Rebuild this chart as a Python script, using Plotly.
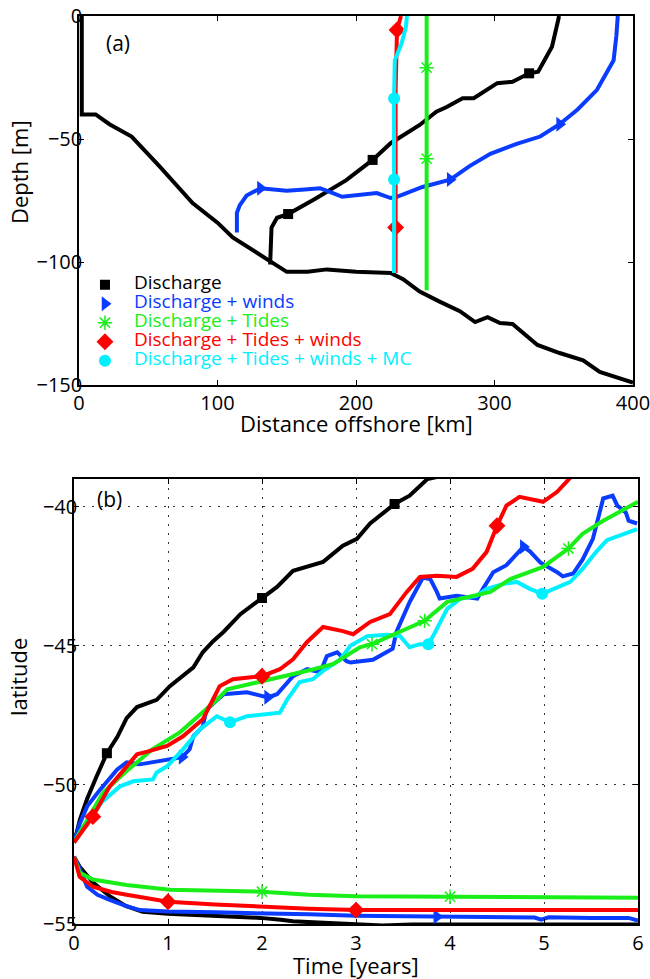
import numpy as np
import plotly.graph_objects as go

# ---------------- panel (a): depth vs distance offshore ----------------
bath_x = [2, 2, 12, 22, 38, 58, 82, 100, 111, 125, 140, 150, 165, 179, 200, 225, 234, 246, 260,
          275, 286, 295, 304, 313, 331, 347, 364, 376, 400]
bath_d = [0, -40, -40, -44, -49, -61, -76, -84, -90, -95, -100, -104, -104, -103, -104, -104.5, -107,
          -112, -116, -120, -124.4, -122.4, -124.8, -125.2, -133.7, -137, -140, -144.7, -149]

dis_x = [138, 139, 143, 151, 170, 181, 193, 212, 225, 246, 258, 265.5, 277, 285, 302, 313, 325,
         331.5, 341.5, 346, 346.6]
dis_d = [-101, -86, -82, -80.5, -74.5, -70.7, -66.7, -58.5, -51.7, -44.3, -38.9, -37, -33.4, -33.4,
         -27.3, -26.7, -23.3, -22.6, -12.5, -1.6, 0]
dis_mark = [3, 7, 16]

win_x = [389, 388, 386, 374, 360, 347, 333, 316, 297, 282, 268, 248, 229.5, 225, 215, 200, 190, 181,
         174, 163, 150, 131, 121, 116, 114, 114]
win_d = [0, -8, -18, -30, -38, -44, -49, -52, -56, -61, -66.5, -69.5, -73.5, -74, -72, -73, -73.5,
         -71.5, -70, -70.5, -71, -70, -73, -77, -80, -88]
win_mark = [5, 10, 21]

tid_x = [251, 251, 251, 251]
tid_d = [0, -21, -58, -111.5]
tid_mark = [1, 2]

tw_x = [232.5, 229.6, 228.6, 228.6, 228.6]
tw_d = [0, -5.7, -30, -86, -104.5]
tw_mark = [1, 3]

mc_x = [236.8, 236, 233, 228, 227.5, 227.5, 227.5, 227.5]
mc_d = [0, -4.5, -11, -18, -33.5, -66.5, -90, -104.5]
mc_mark = [4, 5]

# ---------------- panel (b): latitude vs time ----------------
dis_up_t = [0, 0.01, 0.064, 0.14, 0.24, 0.35, 0.46, 0.52, 0.56, 0.67, 0.88, 1.02, 1.27, 1.37, 1.48,
            1.59, 1.69, 1.77, 2.0, 2.16, 2.33, 2.51, 2.65, 2.86, 3.01, 3.15, 3.41, 3.57, 3.68, 3.76, 3.9]
dis_up_lat = [-52.07, -51.96, -51.24, -50.5, -49.7, -48.86, -48.28, -47.85, -47.6, -47.2, -46.94,
              -46.45, -45.77, -45.23, -44.83, -44.5, -44.14, -43.86, -43.28, -42.88, -42.3, -42.13,
              -41.98, -41.4, -41.15, -40.6, -39.9, -39.6, -39.24, -39.0, -38.9]
dis_lo_t = [0, 0.06, 0.2, 0.38, 0.55, 0.73, 1.0, 1.27, 1.6, 1.98, 2.2, 2.33, 2.6, 2.86, 3.0, 3.28,
            3.6, 4.0, 5.0, 6.0]
dis_lo_lat = [-52.58, -52.94, -53.5, -54.0, -54.35, -54.56, -54.63, -54.67, -54.72, -54.78, -54.85,
              -54.9, -54.95, -55.0, -55.0, -55.05, -55.02, -55.02, -55.02, -55.02]
dis_up_mt = [0.35, 2.0, 3.41]
dis_lo_mt = [3.28]

win_up_t = [0, 0.06, 0.14, 0.28, 0.46, 0.56, 0.7, 0.91, 1.15, 1.23, 1.27, 1.37, 1.41, 1.45, 1.59,
            1.84, 2.06, 2.16, 2.33, 2.48, 2.62, 2.69, 2.8, 2.9, 2.94, 3.18, 3.39, 3.43, 3.57, 3.71,
            3.79, 3.86, 3.89, 4.07, 4.29, 4.35, 4.46, 4.6, 4.78, 4.85, 4.96, 5.14, 5.2, 5.31, 5.41,
            5.52, 5.6, 5.63, 5.73, 5.78, 5.87, 5.9, 5.99]
win_up_lat = [-52.07, -51.4, -50.77, -50.16, -49.44, -49.19, -49.26, -49.15, -49.0, -48.72, -48.25,
              -47.9, -47.28, -47.17, -46.74, -46.67, -46.85, -46.74, -46.09, -45.84, -45.95, -45.37,
              -45.23, -45.55, -45.6, -45.5, -45.1, -44.5, -43.43, -42.55, -42.6, -43.06, -43.3,
              -43.2, -43.3, -42.95, -42.35, -42.1, -41.44, -41.6, -42.0, -42.35, -42.5, -42.4,
              -41.9, -41.15, -40.07, -39.7, -39.6, -39.96, -40.2, -40.5, -40.6]
win_lo_t = [0, 0.06, 0.14, 0.25, 0.38, 0.55, 0.7, 1.0, 1.5, 1.98, 2.5, 3.0, 3.5, 3.86, 4.5, 4.9,
            4.97, 5.05, 5.5, 5.9, 6.0]
win_lo_lat = [-52.58, -53.0, -53.66, -53.95, -54.13, -54.35, -54.5, -54.55, -54.58, -54.6, -54.65,
              -54.7, -54.72, -54.74, -54.76, -54.77, -54.84, -54.76, -54.78, -54.78, -54.88]
win_up_mt = [1.15, 2.06, 4.78]
win_lo_mt = [3.86]

tid_up_t = [0, 0.1, 0.2, 0.31, 0.56, 0.84, 1.13, 1.37, 1.52, 1.63, 1.84, 2.19, 2.54, 2.76, 2.9,
            3.04, 3.17, 3.5, 3.73, 3.97, 4.2, 4.43, 4.64, 4.99, 5.26, 5.41, 5.63, 6.0]
tid_up_lat = [-52.07, -51.5, -50.9, -50.27, -49.5, -48.7, -48.1, -47.4, -46.94, -46.56, -46.4,
              -46.1, -45.85, -45.65, -45.37, -45.05, -44.94, -44.45, -44.1, -43.42, -43.24, -43.06,
              -42.6, -42.16, -41.5, -40.97, -40.5, -39.82]
tid_lo_t = [0, 0.06, 0.2, 0.56, 1.02, 1.5, 2.0, 2.5, 3.0, 4.0, 5.0, 6.0]
tid_lo_lat = [-52.58, -53.15, -53.4, -53.6, -53.77, -53.8, -53.84, -53.95, -54.0, -54.02, -54.05,
              -54.06]
tid_up_mt = [3.17, 3.73, 5.26]
tid_lo_mt = [2.0, 4.0]

tw_up_t = [0, 0.1, 0.2, 0.38, 0.56, 0.67, 0.78, 0.99, 1.16, 1.37, 1.48, 1.55, 1.69, 1.87, 2.0, 2.19,
           2.33, 2.48, 2.65, 2.86, 2.97, 3.15, 3.36, 3.54, 3.68, 3.86, 4.07, 4.24, 4.39, 4.5, 4.6,
           4.74, 4.99, 5.14, 5.28, 5.35]
tw_up_lat = [-52.07, -51.6, -51.14, -50.05, -49.33, -48.9, -48.8, -48.6, -48.25, -47.64, -46.92,
             -46.45, -46.2, -46.13, -46.09, -45.84, -45.48, -44.86, -44.32, -44.47, -44.58, -44.14,
             -43.86, -43.06, -42.52, -42.48, -42.52, -42.23, -41.62, -40.68, -39.96, -39.64, -39.82,
             -39.46, -38.92, -38.7]
tw_lo_t = [0, 0.06, 0.2, 0.4, 0.56, 0.8, 1.0, 1.5, 1.98, 2.5, 3.0, 4.0, 5.0, 6.0]
tw_lo_lat = [-52.58, -53.3, -53.66, -53.85, -53.95, -54.08, -54.2, -54.3, -54.38, -54.45, -54.5,
             -54.5, -54.5, -54.5]
tw_up_mt = [0.2, 2.0, 4.5]
tw_lo_mt = [1.0, 3.0]

mc_up_t = [0, 0.1, 0.3, 0.49, 0.63, 0.84, 0.88, 0.99, 1.16, 1.34, 1.52, 1.66, 1.84, 2.05, 2.19, 2.27,
           2.4, 2.54, 2.65, 2.83, 2.94, 3.12, 3.33, 3.47, 3.57, 3.68, 3.77, 3.82, 3.97, 4.11, 4.28,
           4.39, 4.57, 4.71, 4.85, 4.98, 5.14, 5.28, 5.41, 5.56, 5.67, 5.84, 5.99]
mc_up_lat = [-52.07, -51.5, -50.6, -50.05, -49.87, -49.8, -49.55, -49.33, -48.72, -48.0, -47.53,
             -47.75, -47.53, -47.46, -47.4, -46.92, -46.3, -46.2, -45.9, -45.5, -45.0, -44.65,
             -44.6, -44.65, -45.05, -44.94, -44.94, -44.65, -43.67, -43.3, -43.2, -42.95, -42.77,
             -42.7, -42.95, -43.13, -42.9, -42.7, -42.23, -41.6, -41.2, -41.0, -40.8]
mc_up_mt = [1.66, 3.77, 4.98]

# ---------------- styling ----------------
names = ["Discharge", "Discharge + winds", "Discharge + Tides", "Discharge + Tides + winds",
         "Discharge + Tides + winds + MC"]
colors = ["#000000", "#0a3cff", "#19ee19", "#ff0000", "#00f0ff"]
symbols = ["square", "triangle-right", "asterisk-open", "diamond", "circle"]
msizes = [10, 13, 12, 13, 12]
LW = 4
FONT = "Open Sans"

fig = go.Figure()


def line(x, y, color, xa="x", ya="y", clip=True):
    fig.add_trace(go.Scatter(x=x, y=y, mode="lines", line=dict(color=color, width=LW),
                             xaxis=xa, yaxis=ya, showlegend=False, hoverinfo="skip",
                             cliponaxis=clip))


def marks(x, y, k, xa="x", ya="y", clip=True):
    mk = dict(symbol=symbols[k], size=msizes[k], color=colors[k])
    if symbols[k] == "asterisk-open":
        mk["line"] = dict(color=colors[k], width=1.5)
    else:
        mk["line"] = dict(width=0)
    fig.add_trace(go.Scatter(x=x, y=y, mode="markers", marker=mk, xaxis=xa, yaxis=ya,
                             showlegend=False, hoverinfo="skip", cliponaxis=clip))


def top(xs, ds, idx, k):
    line(xs, ds, colors[k])
    marks([xs[i] for i in idx], [ds[i] for i in idx], k)


def bottom(t, lat, mt, k, clip=True):
    line(t, lat, colors[k], "x2", "y2", clip)
    if mt:
        marks(mt, list(np.interp(mt, t, lat)), k, "x2", "y2", clip)


# panel (a)
line(bath_x, bath_d, "#000000")
top(dis_x, dis_d, dis_mark, 0)
top(win_x, win_d, win_mark, 1)
top(tid_x, tid_d, tid_mark, 2)
top(tw_x, tw_d, tw_mark, 3)
top(mc_x, mc_d, mc_mark, 4)

# panel (b)
bottom(dis_up_t, dis_up_lat, dis_up_mt, 0)
bottom(dis_lo_t, dis_lo_lat, dis_lo_mt, 0, clip=False)
bottom(win_up_t, win_up_lat, win_up_mt, 1)
bottom(win_lo_t, win_lo_lat, win_lo_mt, 1)
bottom(mc_up_t, mc_up_lat, mc_up_mt, 4)
bottom(tid_up_t, tid_up_lat, tid_up_mt, 2)
bottom(tid_lo_t, tid_lo_lat, tid_lo_mt, 2)
bottom(tw_up_t, tw_up_lat, tw_up_mt, 3)
bottom(tw_lo_t, tw_lo_lat, tw_lo_mt, 3)

# legend entries (marker only)
for k, nm in enumerate(names):
    mk = dict(symbol=symbols[k], size=msizes[k], color=colors[k])
    if symbols[k] == "asterisk-open":
        mk["line"] = dict(color=colors[k], width=1.5)
    fig.add_trace(go.Scatter(x=[None], y=[None], mode="markers", marker=mk,
                             name=f'<span style="font-size:19px;color:{colors[k]}">{nm}</span>',
                             showlegend=True, xaxis="x", yaxis="y"))

axis_common = dict(showline=True, linewidth=1.5, linecolor="black", mirror="ticks",
                   ticks="inside", ticklen=5, tickwidth=1, tickcolor="black", automargin=False,
                   ticklabeloverflow="allow",
                   tickfont=dict(family=FONT, size=20, color="black"), zeroline=False)

W, H = 650, 979
L, R, T, B = 74, 12, 16, 55
pw, ph = W - L - R, H - T - B

fig.update_layout(
    width=W, height=H,
    margin=dict(l=L, r=R, t=T, b=B, autoexpand=False),
    paper_bgcolor="white", plot_bgcolor="white",
    font=dict(family=FONT, color="black"),
    xaxis=dict(domain=[5 / 564, 559 / 564], range=[0, 400], tickvals=[0, 100, 200, 300, 400],
               anchor="y", showgrid=False, ticklabelstandoff=-1, **axis_common),
    yaxis=dict(domain=[0.5936, 1], range=[-150, 0], tickvals=[0, -50, -100, -150], anchor="x",
               showgrid=False, ticklabelstandoff=-9, **axis_common),
    xaxis2=dict(domain=[0, 1], range=[0, 6], tickvals=[0, 1, 2, 3, 4, 5, 6], anchor="y2",
                showgrid=True, griddash="2px,7px", gridcolor="#333", gridwidth=1,
                ticklabelstandoff=0, **axis_common),
    yaxis2=dict(domain=[0, 0.4901], range=[-55, -39], tickvals=[-40, -45, -50, -55], anchor="x2",
                showgrid=True, griddash="2px,7px", gridcolor="#333", gridwidth=1,
                ticklabelstandoff=-9, **axis_common),
    legend=dict(x=0.0035, y=0.720, xanchor="left", yanchor="top", bgcolor="rgba(0,0,0,0)",
                borderwidth=0, font=dict(family=FONT, size=12), itemsizing="trace",
                itemwidth=48, tracegroupgap=0),
    annotations=[
        dict(text="(a)", x=118, y=43, font=dict(size=21)),
        dict(text="(b)", x=109, y=499, font=dict(size=21)),
        dict(text="Depth [m]", x=19, y=172, textangle=-90, font=dict(size=22)),
        dict(text="latitude", x=18, y=677, textangle=-90, font=dict(size=22)),
        dict(text="Distance offshore [km]", x=356, y=423, font=dict(size=22)),
        dict(text="Time [years]", x=356, y=965, font=dict(size=22)),
    ],
)

# convert page-pixel annotation centres to paper coordinates
for a in fig.layout.annotations:
    a.update(xref="paper", yref="paper", showarrow=False, xanchor="center", yanchor="middle",
             x=(a.x - L) / pw, y=(H - B - a.y) / ph)

fig.write_html("out.html", config={"displayModeBar": False},
               post_script="document.body.style.margin='0px';")
